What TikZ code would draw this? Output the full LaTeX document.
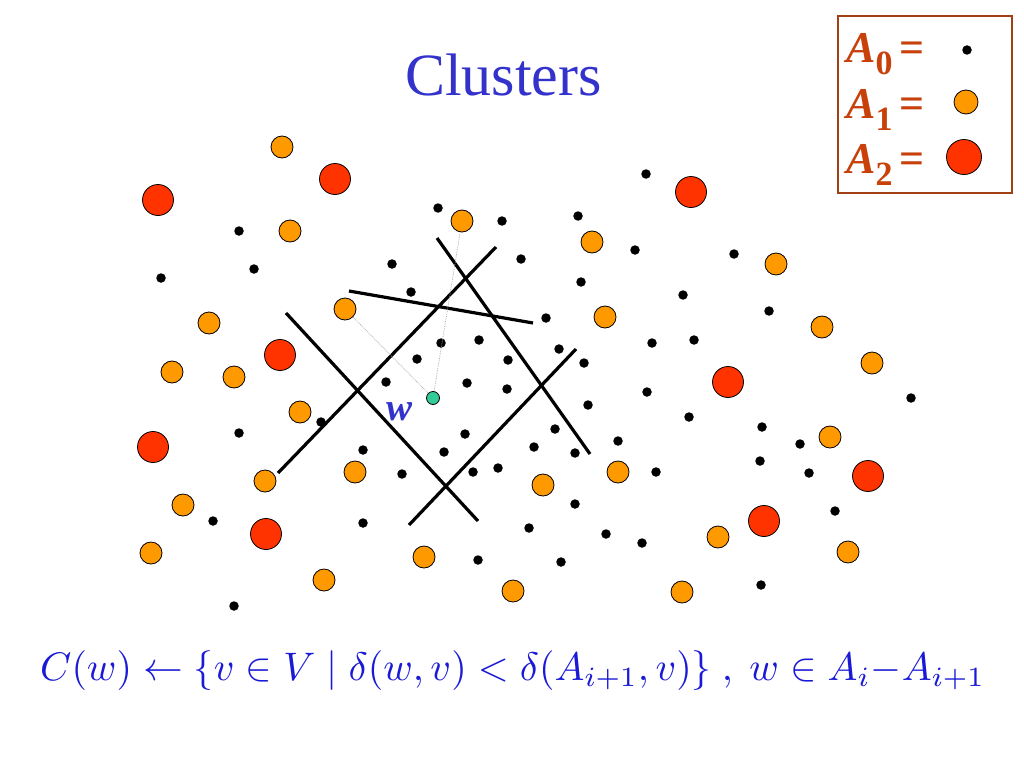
\documentclass[tikz,border=0pt]{standalone}
\usepackage{fontspec}
\setmainfont{Liberation Serif}
\usepackage{graphicx}
\definecolor{ttl}{RGB}{51,51,204}
\definecolor{frm}{RGB}{26,26,214}
\definecolor{lgt}{RGB}{200,64,10}
\definecolor{lgb}{RGB}{160,64,20}
\definecolor{orng}{RGB}{255,153,0}
\definecolor{rd}{RGB}{255,51,0}
\definecolor{tealdot}{RGB}{51,204,153}
\newcommand\legrow[1]{\fontsize{44}{44}\selectfont\bfseries\itshape A\raisebox{-12pt}{\fontsize{34}{34}\selectfont\upshape #1}\upshape\,=}
\begin{document}
\begin{tikzpicture}[x=1pt,y=-1pt,
  azero/.style={circle,fill=black,minimum size=9.5pt,inner sep=0pt},
  aone/.style={circle,draw=black,line width=0.8pt,fill=orng,minimum size=22pt,inner sep=0pt},
  atwo/.style={circle,draw=black,line width=0.8pt,fill=rd,minimum size=31pt,inner sep=0pt},
  cut/.style={line width=3.2pt,black},
  probe/.style={densely dotted,line width=0.7pt,black!35},
  legtext/.style={anchor=base west,inner sep=0pt,text=lgt}]
\fill[white] (0,0) rectangle (1024,768);
\useasboundingbox (0,0) rectangle (1024,768);

% title
\node[anchor=base west,inner sep=0pt,text=ttl,font=\fontsize{60}{60}\selectfont] (title) at (405,95) {Clusters};

% legend
\node[draw=lgb,line width=2.2pt,minimum width=174pt,minimum height=177pt,anchor=north west,inner sep=0pt] (legend) at (837,15) {};
\node[legtext] (l0) at (846,63) {\legrow{0}};
\node[legtext] (l1) at (846,118) {\legrow{1}};
\node[legtext] (l2) at (846,173) {\legrow{2}};
\node[azero] (d0) at (967,50) {};
\node[aone,minimum size=24pt] (d1) at (966,102) {};
\node[atwo,minimum size=35pt] (d2) at (964,157) {};

% cut lines
\coordinate (c1a) at (437,238); \coordinate (c1b) at (590,454);
\coordinate (c2a) at (496,247); \coordinate (c2b) at (278,473);
\coordinate (c3a) at (349,291); \coordinate (c3b) at (533,323);
\coordinate (c4a) at (286,313); \coordinate (c4b) at (478,521);
\coordinate (c5a) at (576,349); \coordinate (c5b) at (409,525);
\draw[cut] (c1a) -- (c1b);
\draw[cut] (c2a) -- (c2b);
\draw[cut] (c3a) -- (c3b);
\draw[cut] (c4a) -- (c4b);
\draw[cut] (c5a) -- (c5b);

% A0 points
\foreach \px/\py [count=\k] in {438/208,502/221,578/216,646/174,239/231,254/269,161/278,392/264,521/259,635/250,
  734/254,581/282,411/292,683/295,769/311,546/318,441/343,479/340,652/343,694/340,
  417/359,508/360,559/349,584/363,386/382,467/383,507/389,647/392,588/405,911/398,
  321/422,689/417,762/427,239/433,465/434,555/429,618/441,800/444,363/450,444/452,
  534/447,575/453,760/461,402/474,473/472,498/468,656/472,809/473,575/504,835/511,
  213/521,363/523,529/528,606/534,642/543,478/560,561/562,761/585,234/606}
  {\node[azero] (z\k) at (\px,\py) {};}

% A1 points
\foreach \px/\py [count=\k] in {282/147,290/231,209/323,172/372,234/377,300/412,592/242,776/264,605/317,822/327,
  872/363,830/437,265/481,355/472,183/505,151/553,324/580,424/557,513/591,543/485,
  618/472,718/537,848/552,682/592}
  {\node[aone] (o\k) at (\px,\py) {};}
\node[aone] (p) at (345,309) {};
\node[aone] (q) at (462,221) {};

% A2 points
\foreach \px/\py [count=\k] in {158/200,335/179,691/192,280/355,153/447,266/534,728/382,868/476,764/521}
  {\node[atwo] (r\k) at (\px,\py) {};}

% w
\node[circle,draw=black,line width=0.8pt,fill=tealdot,minimum size=13pt,inner sep=0pt] (w) at (433,398) {};
\draw[probe] (p) -- (w);
\draw[probe] (q) -- (w);
\node[anchor=base west,inner sep=0pt,text=ttl,font=\fontsize{39}{39}\selectfont\bfseries\itshape] (wl) at (386,420) {w};

% formula
\node[anchor=west,inner sep=0pt,text=frm] (formula) at (40,671)
  {\resizebox{945pt}{!}{$C(w)\leftarrow\{v\in V\mid \delta(w,v)<\delta(A_{i+1},v)\}\ ,\ w\in A_i{-}A_{i+1}$}};
\end{tikzpicture}
\end{document}
